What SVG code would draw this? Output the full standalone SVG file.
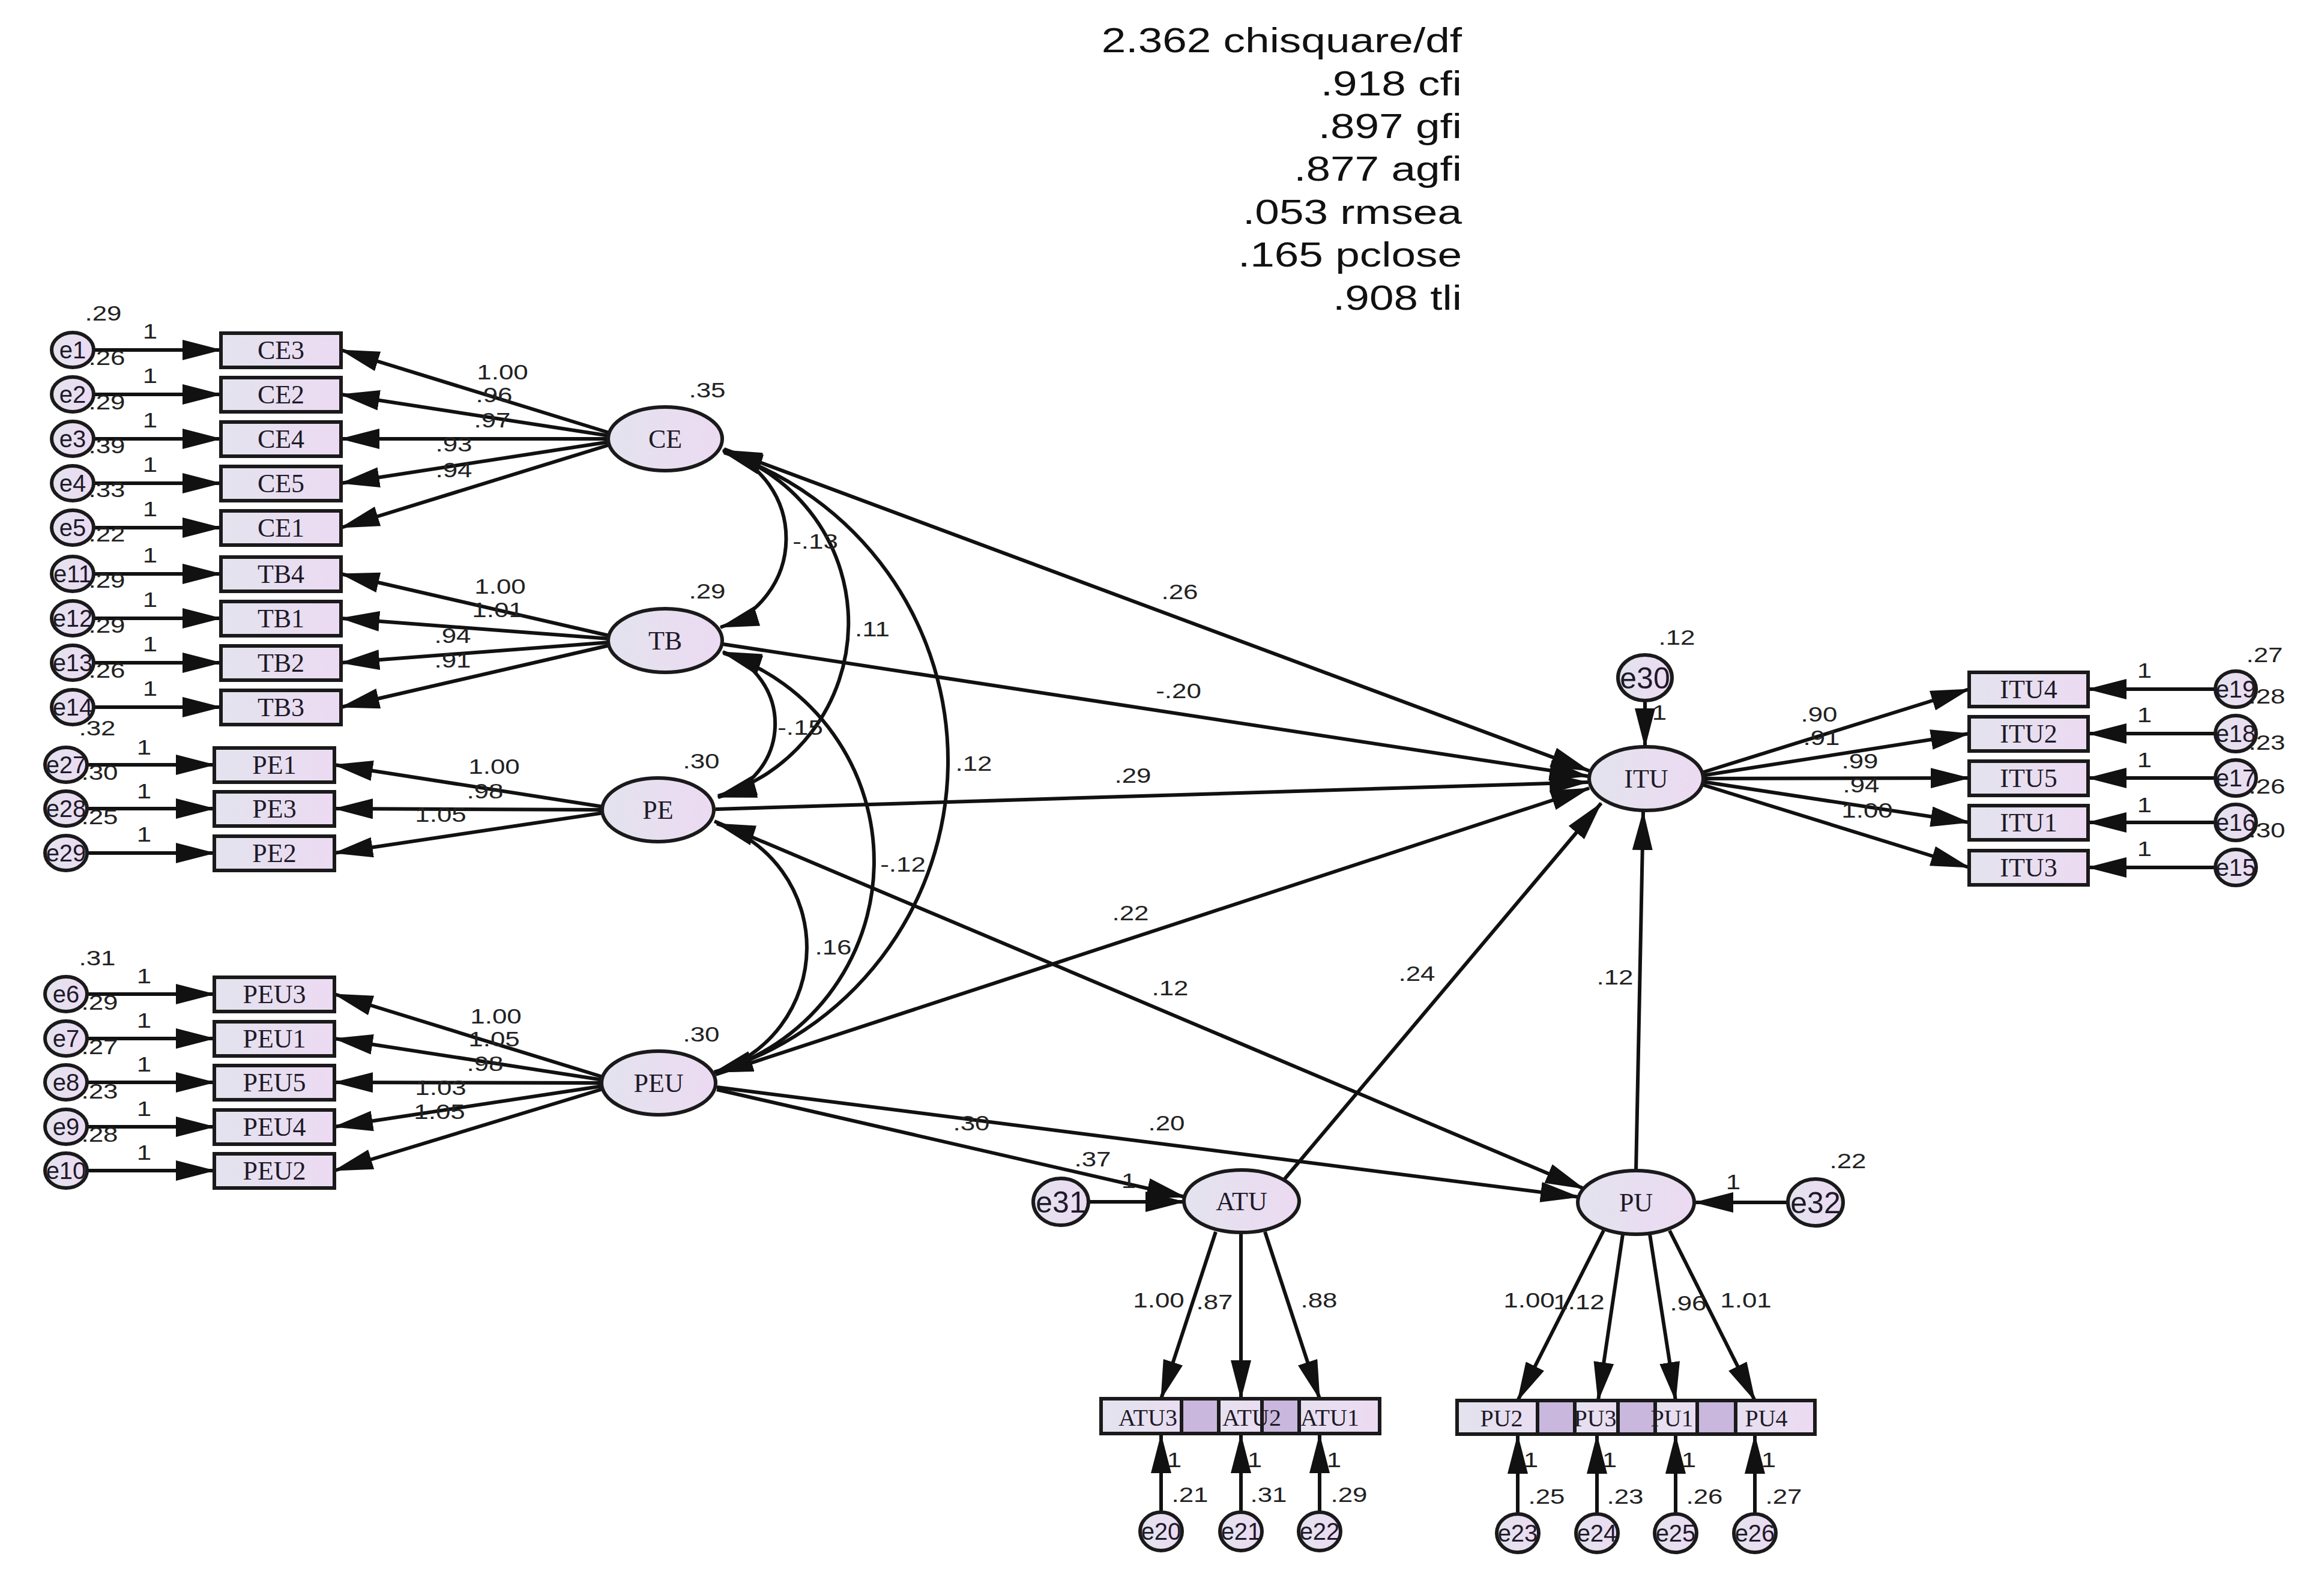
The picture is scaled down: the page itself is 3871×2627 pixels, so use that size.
<svg xmlns="http://www.w3.org/2000/svg" width="3871" height="2627" viewBox="0 0 3871 2627">
<defs>
<linearGradient id="g" x1="0" y1="0" x2="1" y2="0"><stop offset="0" stop-color="#e3e3ee"/><stop offset="1" stop-color="#ecdaf2"/></linearGradient>
<marker id="ah" markerUnits="userSpaceOnUse" markerWidth="66" markerHeight="34" viewBox="0 0 66 34" refX="64" refY="17" orient="auto"><path d="M0,0 L66,17 L0,34 z" fill="#111"/></marker>
<marker id="ahs" markerUnits="userSpaceOnUse" markerWidth="66" markerHeight="34" viewBox="0 0 66 34" refX="64" refY="17" orient="auto-start-reverse"><path d="M0,0 L66,17 L0,34 z" fill="#111"/></marker>
<style>
.ln{stroke:#111;stroke-width:6;fill:none;marker-end:url(#ah)}
.bi{stroke:#111;stroke-width:6;fill:none;marker-start:url(#ahs);marker-end:url(#ahs)}
.nd{fill:url(#g);stroke:#1a1a1a;stroke-width:6}
.dk{fill:#c9b7dd;stroke:#1a1a1a;stroke-width:6}
.t{font-family:"Liberation Serif","Times New Roman",serif;font-size:44px;fill:#1e1a28;text-anchor:middle}
.ts{font-size:40px}
.e{font-family:"Liberation Sans",Arial,sans-serif;font-size:40px;fill:#1e1a28;text-anchor:middle}
.eb{font-size:50px}
.n{font-family:"Liberation Sans",Arial,sans-serif;font-size:36px;fill:#222;text-anchor:middle}
.fit{font-family:"Liberation Sans",Arial,sans-serif;font-size:57px;fill:#111;text-anchor:end}
</style>
</defs>
<rect width="3871" height="2627" fill="#ffffff"/>

<g id="connectors">
<line class="ln" x1="156" y1="583" x2="368" y2="583"/>
<line class="ln" x1="156" y1="657" x2="368" y2="657"/>
<line class="ln" x1="156" y1="731" x2="368" y2="731"/>
<line class="ln" x1="156" y1="805" x2="368" y2="805"/>
<line class="ln" x1="156" y1="879" x2="368" y2="879"/>
<line class="ln" x1="156" y1="956" x2="368" y2="956"/>
<line class="ln" x1="156" y1="1030" x2="368" y2="1030"/>
<line class="ln" x1="156" y1="1104" x2="368" y2="1104"/>
<line class="ln" x1="156" y1="1178" x2="368" y2="1178"/>
<line class="ln" x1="145" y1="1274" x2="357" y2="1274"/>
<line class="ln" x1="145" y1="1347" x2="357" y2="1347"/>
<line class="ln" x1="145" y1="1421" x2="357" y2="1421"/>
<line class="ln" x1="145" y1="1656" x2="357" y2="1656"/>
<line class="ln" x1="145" y1="1730" x2="357" y2="1730"/>
<line class="ln" x1="145" y1="1803" x2="357" y2="1803"/>
<line class="ln" x1="145" y1="1877" x2="357" y2="1877"/>
<line class="ln" x1="145" y1="1950" x2="357" y2="1950"/>
<line class="ln" x1="1015" y1="721" x2="568" y2="583"/>
<line class="ln" x1="1015" y1="726" x2="568" y2="657"/>
<line class="ln" x1="1015" y1="731" x2="568" y2="731"/>
<line class="ln" x1="1015" y1="736" x2="568" y2="805"/>
<line class="ln" x1="1015" y1="741" x2="568" y2="879"/>
<line class="ln" x1="1015" y1="1059" x2="568" y2="956"/>
<line class="ln" x1="1015" y1="1064" x2="568" y2="1030"/>
<line class="ln" x1="1015" y1="1070" x2="568" y2="1104"/>
<line class="ln" x1="1015" y1="1075" x2="568" y2="1178"/>
<line class="ln" x1="1005" y1="1344" x2="557" y2="1274"/>
<line class="ln" x1="1005" y1="1349" x2="557" y2="1347"/>
<line class="ln" x1="1005" y1="1354" x2="557" y2="1421"/>
<line class="ln" x1="1004" y1="1794" x2="557" y2="1656"/>
<line class="ln" x1="1004" y1="1799" x2="557" y2="1730"/>
<line class="ln" x1="1004" y1="1804" x2="557" y2="1803"/>
<line class="ln" x1="1004" y1="1809" x2="557" y2="1877"/>
<line class="ln" x1="1004" y1="1814" x2="557" y2="1950"/>
<line class="ln" x1="2835" y1="1287" x2="3280" y2="1148"/>
<line class="ln" x1="2835" y1="1292" x2="3280" y2="1222"/>
<line class="ln" x1="2835" y1="1297" x2="3280" y2="1296"/>
<line class="ln" x1="2835" y1="1302" x2="3280" y2="1370"/>
<line class="ln" x1="2835" y1="1307" x2="3280" y2="1445"/>
<line class="ln" x1="3690" y1="1148" x2="3478" y2="1148"/>
<line class="ln" x1="3690" y1="1222" x2="3478" y2="1222"/>
<line class="ln" x1="3690" y1="1296" x2="3478" y2="1296"/>
<line class="ln" x1="3690" y1="1370" x2="3478" y2="1370"/>
<line class="ln" x1="3690" y1="1445" x2="3478" y2="1445"/>
<path class="bi" d="M1204,750 A155,155 0 0 1 1200,1045"/>
<path class="bi" d="M1205,752 A300,300 0 0 1 1196,1326"/>
<path class="bi" d="M1206,754 A540,540 0 0 1 1190,1786"/>
<path class="bi" d="M1204,1086 A126,126 0 0 1 1196,1328"/>
<path class="bi" d="M1205,1088 A365,365 0 0 1 1190,1786"/>
<path class="bi" d="M1194,1372 A217,217 0 0 1 1190,1786"/>
<line class="ln" x1="1206" y1="748" x2="2647" y2="1284"/>
<line class="ln" x1="1204" y1="1073" x2="2645" y2="1293"/>
<line class="ln" x1="1192" y1="1348" x2="2645" y2="1303"/>
<line class="ln" x1="1192" y1="1790" x2="2647" y2="1313"/>
<line class="ln" x1="1190" y1="1368" x2="2638" y2="1980"/>
<line class="ln" x1="1194" y1="1811" x2="2630" y2="1994"/>
<line class="ln" x1="1194" y1="1815" x2="1974" y2="1994"/>
<line class="ln" x1="1813" y1="2002" x2="1972" y2="2002"/>
<line class="ln" x1="2138" y1="1966" x2="2667" y2="1338"/>
<line class="ln" x1="2725" y1="1950" x2="2737" y2="1352"/>
<line class="ln" x1="2978" y1="2003" x2="2823" y2="2003"/>
<line class="ln" x1="2740" y1="1167" x2="2740" y2="1244"/>
<line class="ln" x1="2025" y1="2052" x2="1934" y2="2330"/>
<line class="ln" x1="2067" y1="2054" x2="2067" y2="2330"/>
<line class="ln" x1="2107" y1="2052" x2="2198" y2="2330"/>
<line class="ln" x1="2671" y1="2050" x2="2528" y2="2333"/>
<line class="ln" x1="2703" y1="2056" x2="2662" y2="2333"/>
<line class="ln" x1="2748" y1="2056" x2="2791" y2="2333"/>
<line class="ln" x1="2781" y1="2050" x2="2923" y2="2333"/>
<line class="ln" x1="1934" y1="2519" x2="1934" y2="2390"/>
<line class="ln" x1="2067" y1="2519" x2="2067" y2="2390"/>
<line class="ln" x1="2198" y1="2519" x2="2198" y2="2390"/>
<line class="ln" x1="2528" y1="2522" x2="2528" y2="2391"/>
<line class="ln" x1="2660" y1="2522" x2="2660" y2="2391"/>
<line class="ln" x1="2791" y1="2522" x2="2791" y2="2391"/>
<line class="ln" x1="2923" y1="2522" x2="2923" y2="2391"/>
</g>

<g id="CE"><ellipse class="nd" cx="1108" cy="731" rx="95" ry="53"/><text class="t" x="1108" y="746">CE</text></g>
<g id="TB"><ellipse class="nd" cx="1108" cy="1067" rx="95" ry="53"/><text class="t" x="1108" y="1082">TB</text></g>
<g id="PE"><ellipse class="nd" cx="1096" cy="1349" rx="93" ry="53"/><text class="t" x="1096" y="1364">PE</text></g>
<g id="PEU"><ellipse class="nd" cx="1097" cy="1804" rx="95" ry="53"/><text class="t" x="1097" y="1819">PEU</text></g>
<g id="ITU"><ellipse class="nd" cx="2742" cy="1297" rx="95" ry="53"/><text class="t" x="2742" y="1312">ITU</text></g>
<g id="ATU"><ellipse class="nd" cx="2068" cy="2001" rx="96" ry="52"/><text class="t" x="2068" y="2016">ATU</text></g>
<g id="PU"><ellipse class="nd" cx="2725" cy="2003" rx="97" ry="53"/><text class="t" x="2725" y="2018">PU</text></g>

<g id="CE3"><rect class="nd" x="368" y="555" width="200" height="57"/><text class="t" x="468" y="598">CE3</text></g>
<g id="CE2"><rect class="nd" x="368" y="629" width="200" height="57"/><text class="t" x="468" y="672">CE2</text></g>
<g id="CE4"><rect class="nd" x="368" y="703" width="200" height="57"/><text class="t" x="468" y="746">CE4</text></g>
<g id="CE5"><rect class="nd" x="368" y="777" width="200" height="57"/><text class="t" x="468" y="820">CE5</text></g>
<g id="CE1"><rect class="nd" x="368" y="851" width="200" height="57"/><text class="t" x="468" y="894">CE1</text></g>
<g id="TB4"><rect class="nd" x="368" y="928" width="200" height="57"/><text class="t" x="468" y="971">TB4</text></g>
<g id="TB1"><rect class="nd" x="368" y="1002" width="200" height="57"/><text class="t" x="468" y="1045">TB1</text></g>
<g id="TB2"><rect class="nd" x="368" y="1076" width="200" height="57"/><text class="t" x="468" y="1119">TB2</text></g>
<g id="TB3"><rect class="nd" x="368" y="1150" width="200" height="57"/><text class="t" x="468" y="1193">TB3</text></g>
<g id="PE1"><rect class="nd" x="357" y="1246" width="200" height="57"/><text class="t" x="457" y="1289">PE1</text></g>
<g id="PE3"><rect class="nd" x="357" y="1319" width="200" height="57"/><text class="t" x="457" y="1362">PE3</text></g>
<g id="PE2"><rect class="nd" x="357" y="1393" width="200" height="57"/><text class="t" x="457" y="1436">PE2</text></g>
<g id="PEU3"><rect class="nd" x="357" y="1628" width="200" height="57"/><text class="t" x="457" y="1671">PEU3</text></g>
<g id="PEU1"><rect class="nd" x="357" y="1702" width="200" height="57"/><text class="t" x="457" y="1745">PEU1</text></g>
<g id="PEU5"><rect class="nd" x="357" y="1775" width="200" height="57"/><text class="t" x="457" y="1818">PEU5</text></g>
<g id="PEU4"><rect class="nd" x="357" y="1849" width="200" height="57"/><text class="t" x="457" y="1892">PEU4</text></g>
<g id="PEU2"><rect class="nd" x="357" y="1922" width="200" height="57"/><text class="t" x="457" y="1965">PEU2</text></g>

<g id="ITU4"><rect class="nd" x="3280" y="1120" width="198" height="57"/><text class="t" x="3379" y="1163">ITU4</text></g>
<g id="ITU2"><rect class="nd" x="3280" y="1194" width="198" height="57"/><text class="t" x="3379" y="1237">ITU2</text></g>
<g id="ITU5"><rect class="nd" x="3280" y="1268" width="198" height="57"/><text class="t" x="3379" y="1311">ITU5</text></g>
<g id="ITU1"><rect class="nd" x="3280" y="1342" width="198" height="57"/><text class="t" x="3379" y="1385">ITU1</text></g>
<g id="ITU3"><rect class="nd" x="3280" y="1417" width="198" height="57"/><text class="t" x="3379" y="1460">ITU3</text></g>

<g id="ATU3"><rect class="nd" x="1834" y="2330" width="196" height="58"/></g>
<g id="ATU2"><rect class="nd" x="1968" y="2330" width="196" height="58"/></g>
<g id="ATU1"><rect class="nd" x="2102" y="2330" width="196" height="58"/></g>
<g id="ATU-overlaps"><rect class="dk" x="1968" y="2330" width="62" height="58"/><rect class="dk" x="2102" y="2330" width="62" height="58"/></g>
<g id="ATU-labels"><text class="t ts" x="1912" y="2375">ATU3</text><text class="t ts" x="2085" y="2375">ATU2</text><text class="t ts" x="2215" y="2375">ATU1</text></g>

<g id="PU2"><rect class="nd" x="2427" y="2333" width="196" height="56"/></g>
<g id="PU3"><rect class="nd" x="2561" y="2333" width="196" height="56"/></g>
<g id="PU1"><rect class="nd" x="2695" y="2333" width="196" height="56"/></g>
<g id="PU4"><rect class="nd" x="2827" y="2333" width="196" height="56"/></g>
<g id="PU-overlaps"><rect class="dk" x="2561" y="2333" width="62" height="56"/><rect class="dk" x="2695" y="2333" width="62" height="56"/><rect class="dk" x="2827" y="2333" width="64" height="56"/></g>
<g id="PU-labels"><text class="t ts" x="2501" y="2376">PU2</text><text class="t ts" x="2657" y="2376">PU3</text><text class="t ts" x="2785" y="2376">PU1</text><text class="t ts" x="2942" y="2376">PU4</text></g>

<g id="e1"><ellipse class="nd" cx="121" cy="583" rx="35" ry="29"/><text class="e" x="121" y="597">e1</text></g>
<g id="e2"><ellipse class="nd" cx="121" cy="657" rx="35" ry="29"/><text class="e" x="121" y="671">e2</text></g>
<g id="e3"><ellipse class="nd" cx="121" cy="731" rx="35" ry="29"/><text class="e" x="121" y="745">e3</text></g>
<g id="e4"><ellipse class="nd" cx="121" cy="805" rx="35" ry="29"/><text class="e" x="121" y="819">e4</text></g>
<g id="e5"><ellipse class="nd" cx="121" cy="879" rx="35" ry="29"/><text class="e" x="121" y="893">e5</text></g>
<g id="e11"><ellipse class="nd" cx="121" cy="956" rx="35" ry="29"/><text class="e" x="121" y="970">e11</text></g>
<g id="e12"><ellipse class="nd" cx="121" cy="1030" rx="35" ry="29"/><text class="e" x="121" y="1044">e12</text></g>
<g id="e13"><ellipse class="nd" cx="121" cy="1104" rx="35" ry="29"/><text class="e" x="121" y="1118">e13</text></g>
<g id="e14"><ellipse class="nd" cx="121" cy="1178" rx="35" ry="29"/><text class="e" x="121" y="1192">e14</text></g>
<g id="e27"><ellipse class="nd" cx="110" cy="1274" rx="35" ry="29"/><text class="e" x="110" y="1288">e27</text></g>
<g id="e28"><ellipse class="nd" cx="110" cy="1347" rx="35" ry="29"/><text class="e" x="110" y="1361">e28</text></g>
<g id="e29"><ellipse class="nd" cx="110" cy="1421" rx="35" ry="29"/><text class="e" x="110" y="1435">e29</text></g>
<g id="e6"><ellipse class="nd" cx="110" cy="1656" rx="35" ry="29"/><text class="e" x="110" y="1670">e6</text></g>
<g id="e7"><ellipse class="nd" cx="110" cy="1730" rx="35" ry="29"/><text class="e" x="110" y="1744">e7</text></g>
<g id="e8"><ellipse class="nd" cx="110" cy="1803" rx="35" ry="29"/><text class="e" x="110" y="1817">e8</text></g>
<g id="e9"><ellipse class="nd" cx="110" cy="1877" rx="35" ry="29"/><text class="e" x="110" y="1891">e9</text></g>
<g id="e10"><ellipse class="nd" cx="110" cy="1950" rx="35" ry="29"/><text class="e" x="110" y="1964">e10</text></g>
<g id="e19"><ellipse class="nd" cx="3724" cy="1148" rx="34" ry="30"/><text class="e" x="3724" y="1162">e19</text></g>
<g id="e18"><ellipse class="nd" cx="3724" cy="1222" rx="34" ry="30"/><text class="e" x="3724" y="1236">e18</text></g>
<g id="e17"><ellipse class="nd" cx="3724" cy="1296" rx="34" ry="30"/><text class="e" x="3724" y="1310">e17</text></g>
<g id="e16"><ellipse class="nd" cx="3724" cy="1370" rx="34" ry="30"/><text class="e" x="3724" y="1384">e16</text></g>
<g id="e15"><ellipse class="nd" cx="3724" cy="1445" rx="34" ry="30"/><text class="e" x="3724" y="1459">e15</text></g>
<g id="e30"><ellipse class="nd" cx="2740" cy="1129" rx="45" ry="38"/><text class="e eb" x="2740" y="1147">e30</text></g>
<g id="e31"><ellipse class="nd" cx="1767" cy="2002" rx="46" ry="39"/><text class="e eb" x="1767" y="2020">e31</text></g>
<g id="e32"><ellipse class="nd" cx="3024" cy="2003" rx="46" ry="39"/><text class="e eb" x="3024" y="2021">e32</text></g>
<g id="e20"><ellipse class="nd" cx="1934" cy="2551" rx="35" ry="32"/><text class="e" x="1934" y="2565">e20</text></g>
<g id="e21"><ellipse class="nd" cx="2067" cy="2551" rx="35" ry="32"/><text class="e" x="2067" y="2565">e21</text></g>
<g id="e22"><ellipse class="nd" cx="2198" cy="2551" rx="35" ry="32"/><text class="e" x="2198" y="2565">e22</text></g>
<g id="e23"><ellipse class="nd" cx="2528" cy="2554" rx="35" ry="32"/><text class="e" x="2528" y="2568">e23</text></g>
<g id="e24"><ellipse class="nd" cx="2660" cy="2554" rx="35" ry="32"/><text class="e" x="2660" y="2568">e24</text></g>
<g id="e25"><ellipse class="nd" cx="2791" cy="2554" rx="35" ry="32"/><text class="e" x="2791" y="2568">e25</text></g>
<g id="e26"><ellipse class="nd" cx="2923" cy="2554" rx="35" ry="32"/><text class="e" x="2923" y="2568">e26</text></g>

<g id="labels">
<text class="n" transform="matrix(1.22 0 0 1 172 534)">.29</text>
<text class="n" transform="matrix(1.22 0 0 1 178 608)">.26</text>
<text class="n" transform="matrix(1.22 0 0 1 178 682)">.29</text>
<text class="n" transform="matrix(1.22 0 0 1 178 755)">.39</text>
<text class="n" transform="matrix(1.22 0 0 1 178 828)">.33</text>
<text class="n" transform="matrix(1.22 0 0 1 178 902)">.22</text>
<text class="n" transform="matrix(1.22 0 0 1 178 979)">.29</text>
<text class="n" transform="matrix(1.22 0 0 1 178 1054)">.29</text>
<text class="n" transform="matrix(1.22 0 0 1 178 1129)">.26</text>
<text class="n" transform="matrix(1.22 0 0 1 162 1225)">.32</text>
<text class="n" transform="matrix(1.22 0 0 1 166 1299)">.30</text>
<text class="n" transform="matrix(1.22 0 0 1 166 1373)">.25</text>
<text class="n" transform="matrix(1.22 0 0 1 162 1608)">.31</text>
<text class="n" transform="matrix(1.22 0 0 1 166 1682)">.29</text>
<text class="n" transform="matrix(1.22 0 0 1 166 1756)">.27</text>
<text class="n" transform="matrix(1.22 0 0 1 166 1830)">.23</text>
<text class="n" transform="matrix(1.22 0 0 1 166 1902)">.28</text>

<text class="n" transform="matrix(1.22 0 0 1 250 564)">1</text>
<text class="n" transform="matrix(1.22 0 0 1 250 638)">1</text>
<text class="n" transform="matrix(1.22 0 0 1 250 712)">1</text>
<text class="n" transform="matrix(1.22 0 0 1 250 786)">1</text>
<text class="n" transform="matrix(1.22 0 0 1 250 860)">1</text>
<text class="n" transform="matrix(1.22 0 0 1 250 937)">1</text>
<text class="n" transform="matrix(1.22 0 0 1 250 1011)">1</text>
<text class="n" transform="matrix(1.22 0 0 1 250 1085)">1</text>
<text class="n" transform="matrix(1.22 0 0 1 250 1159)">1</text>
<text class="n" transform="matrix(1.22 0 0 1 240 1257)">1</text>
<text class="n" transform="matrix(1.22 0 0 1 240 1330)">1</text>
<text class="n" transform="matrix(1.22 0 0 1 240 1402)">1</text>
<text class="n" transform="matrix(1.22 0 0 1 240 1638)">1</text>
<text class="n" transform="matrix(1.22 0 0 1 240 1712)">1</text>
<text class="n" transform="matrix(1.22 0 0 1 240 1785)">1</text>
<text class="n" transform="matrix(1.22 0 0 1 240 1859)">1</text>
<text class="n" transform="matrix(1.22 0 0 1 240 1932)">1</text>

<text class="n" transform="matrix(1.22 0 0 1 837 632)">1.00</text>
<text class="n" transform="matrix(1.22 0 0 1 823 670)">.96</text>
<text class="n" transform="matrix(1.22 0 0 1 820 712)">.97</text>
<text class="n" transform="matrix(1.22 0 0 1 756 752)">.93</text>
<text class="n" transform="matrix(1.22 0 0 1 756 795)">.94</text>
<text class="n" transform="matrix(1.22 0 0 1 833 989)">1.00</text>
<text class="n" transform="matrix(1.22 0 0 1 829 1028)">1.01</text>
<text class="n" transform="matrix(1.22 0 0 1 754 1071)">.94</text>
<text class="n" transform="matrix(1.22 0 0 1 754 1112)">.91</text>
<text class="n" transform="matrix(1.22 0 0 1 823 1289)">1.00</text>
<text class="n" transform="matrix(1.22 0 0 1 808 1330)">.98</text>
<text class="n" transform="matrix(1.22 0 0 1 734 1369)">1.05</text>
<text class="n" transform="matrix(1.22 0 0 1 826 1705)">1.00</text>
<text class="n" transform="matrix(1.22 0 0 1 823 1743)">1.05</text>
<text class="n" transform="matrix(1.22 0 0 1 808 1784)">.98</text>
<text class="n" transform="matrix(1.22 0 0 1 734 1824)">1.03</text>
<text class="n" transform="matrix(1.22 0 0 1 732 1864)">1.05</text>

<text class="n" transform="matrix(1.22 0 0 1 1178 662)">.35</text>
<text class="n" transform="matrix(1.22 0 0 1 1178 997)">.29</text>
<text class="n" transform="matrix(1.22 0 0 1 1168 1280)">.30</text>
<text class="n" transform="matrix(1.22 0 0 1 1168 1735)">.30</text>

<text class="n" transform="matrix(1.22 0 0 1 1358 914)">-.13</text>
<text class="n" transform="matrix(1.22 0 0 1 1453 1060)">.11</text>
<text class="n" transform="matrix(1.22 0 0 1 1622 1284)">.12</text>
<text class="n" transform="matrix(1.22 0 0 1 1333 1224)">-.15</text>
<text class="n" transform="matrix(1.22 0 0 1 1504 1452)">-.12</text>
<text class="n" transform="matrix(1.22 0 0 1 1388 1590)">.16</text>

<text class="n" transform="matrix(1.22 0 0 1 1965 998)">.26</text>
<text class="n" transform="matrix(1.22 0 0 1 1963 1163)">-.20</text>
<text class="n" transform="matrix(1.22 0 0 1 1887 1304)">.29</text>
<text class="n" transform="matrix(1.22 0 0 1 1883 1533)">.22</text>
<text class="n" transform="matrix(1.22 0 0 1 1949 1658)">.12</text>
<text class="n" transform="matrix(1.22 0 0 1 2360 1634)">.24</text>
<text class="n" transform="matrix(1.22 0 0 1 2690 1640)">.12</text>
<text class="n" transform="matrix(1.22 0 0 1 1618 1883)">.30</text>
<text class="n" transform="matrix(1.22 0 0 1 1943 1883)">.20</text>
<text class="n" transform="matrix(1.22 0 0 1 1820 1943)">.37</text>
<text class="n" transform="matrix(1.22 0 0 1 1880 1979)">1</text>

<text class="n" transform="matrix(1.22 0 0 1 2793 1074)">.12</text>
<text class="n" transform="matrix(1.22 0 0 1 2764 1199)">1</text>
<text class="n" transform="matrix(1.22 0 0 1 3030 1202)">.90</text>
<text class="n" transform="matrix(1.22 0 0 1 3034 1241)">.91</text>
<text class="n" transform="matrix(1.22 0 0 1 3098 1280)">.99</text>
<text class="n" transform="matrix(1.22 0 0 1 3100 1320)">.94</text>
<text class="n" transform="matrix(1.22 0 0 1 3110 1362)">1.00</text>
<text class="n" transform="matrix(1.22 0 0 1 3572 1129)">1</text>
<text class="n" transform="matrix(1.22 0 0 1 3572 1203)">1</text>
<text class="n" transform="matrix(1.22 0 0 1 3572 1278)">1</text>
<text class="n" transform="matrix(1.22 0 0 1 3572 1353)">1</text>
<text class="n" transform="matrix(1.22 0 0 1 3572 1426)">1</text>
<text class="n" transform="matrix(1.22 0 0 1 3772 1103)">.27</text>
<text class="n" transform="matrix(1.22 0 0 1 3776 1172)">.28</text>
<text class="n" transform="matrix(1.22 0 0 1 3776 1249)">.23</text>
<text class="n" transform="matrix(1.22 0 0 1 3776 1322)">.26</text>
<text class="n" transform="matrix(1.22 0 0 1 3776 1395)">.30</text>

<text class="n" transform="matrix(1.22 0 0 1 3078 1946)">.22</text>
<text class="n" transform="matrix(1.22 0 0 1 2887 1981)">1</text>
<text class="n" transform="matrix(1.22 0 0 1 1930 2178)">1.00</text>
<text class="n" transform="matrix(1.22 0 0 1 2023 2181)">.87</text>
<text class="n" transform="matrix(1.22 0 0 1 2197 2178)">.88</text>
<text class="n" transform="matrix(1.22 0 0 1 2547 2178)">1.00</text>
<text class="n" transform="matrix(1.22 0 0 1 2630 2181)">1.12</text>
<text class="n" transform="matrix(1.22 0 0 1 2812 2183)">.96</text>
<text class="n" transform="matrix(1.22 0 0 1 2908 2178)">1.01</text>

<text class="n" transform="matrix(1.22 0 0 1 1956 2444)">1</text>
<text class="n" transform="matrix(1.22 0 0 1 2090 2444)">1</text>
<text class="n" transform="matrix(1.22 0 0 1 2222 2444)">1</text>
<text class="n" transform="matrix(1.22 0 0 1 2550 2444)">1</text>
<text class="n" transform="matrix(1.22 0 0 1 2681 2444)">1</text>
<text class="n" transform="matrix(1.22 0 0 1 2813 2444)">1</text>
<text class="n" transform="matrix(1.22 0 0 1 2946 2444)">1</text>
<text class="n" transform="matrix(1.22 0 0 1 1982 2502)">.21</text>
<text class="n" transform="matrix(1.22 0 0 1 2113 2502)">.31</text>
<text class="n" transform="matrix(1.22 0 0 1 2247 2502)">.29</text>
<text class="n" transform="matrix(1.22 0 0 1 2576 2505)">.25</text>
<text class="n" transform="matrix(1.22 0 0 1 2707 2505)">.23</text>
<text class="n" transform="matrix(1.22 0 0 1 2839 2505)">.26</text>
<text class="n" transform="matrix(1.22 0 0 1 2971 2505)">.27</text>
</g>

<g id="fit-indices">
<text class="fit" transform="matrix(1.28 0 0 1 2435 87)">2.362 chisquare/df</text>
<text class="fit" transform="matrix(1.28 0 0 1 2435 159)">.918 cfi</text>
<text class="fit" transform="matrix(1.28 0 0 1 2435 230)">.897 gfi</text>
<text class="fit" transform="matrix(1.28 0 0 1 2435 301)">.877 agfi</text>
<text class="fit" transform="matrix(1.28 0 0 1 2435 373)">.053 rmsea</text>
<text class="fit" transform="matrix(1.28 0 0 1 2435 444)">.165 pclose</text>
<text class="fit" transform="matrix(1.28 0 0 1 2435 516)">.908 tli</text>
</g>
</svg>
